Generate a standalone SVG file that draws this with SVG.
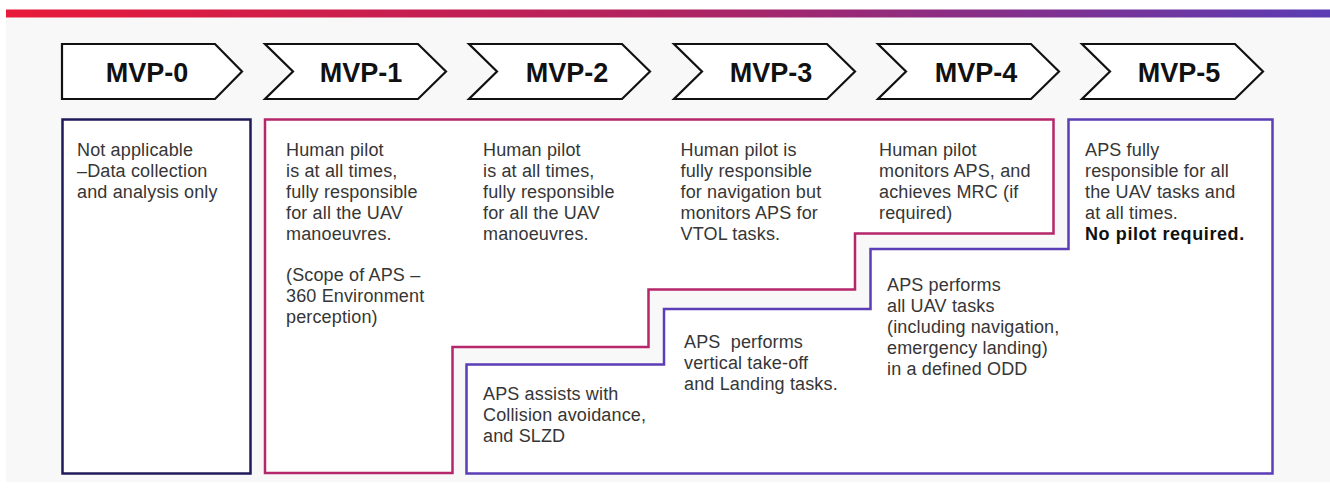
<svg xmlns="http://www.w3.org/2000/svg" width="1330" height="493" viewBox="0 0 1330 493">
<defs>
<linearGradient id="bar" x1="0" y1="0" x2="1" y2="0">
<stop offset="0" stop-color="#e81a3a"/>
<stop offset="0.5" stop-color="#b02360"/>
<stop offset="1" stop-color="#5a3cb4"/>
</linearGradient>
<polygon id="chev" points="0,0 153,0 181,27.5 153,55 0,55 28,27.5"/>
</defs>
<style>
.chev{fill:#fff;stroke:#111;stroke-width:2.2;stroke-linejoin:miter}
.lbl{font-family:"Liberation Sans",Arial,sans-serif;font-weight:bold;font-size:27px;fill:#111;text-anchor:middle}
.t{font-family:"Liberation Sans",Arial,sans-serif;font-size:18px;fill:#363636;letter-spacing:0.15px}
.b{font-weight:bold;fill:#111;letter-spacing:0.6px}
.box{fill:#fff;stroke-width:2.5}
</style>
<rect x="0" y="0" width="1330" height="493" fill="#fff"/>
<rect x="6" y="18" width="1324" height="464" fill="#f8f8f8"/>
<rect x="6" y="9.5" width="1324" height="8" fill="url(#bar)"/>

<g id="mvp0-head">
<polygon class="chev" points="62,44 215,44 242,71.5 215,99 62,99"/>
<text class="lbl" x="147" y="81.5">MVP-0</text>
</g>
<g id="mvp1-head">
<use href="#chev" class="chev" x="265" y="44"/>
<text class="lbl" x="361" y="81.5">MVP-1</text>
</g>
<g id="mvp2-head">
<use href="#chev" class="chev" x="469" y="44"/>
<text class="lbl" x="567" y="81.5">MVP-2</text>
</g>
<g id="mvp3-head">
<use href="#chev" class="chev" x="674" y="44"/>
<text class="lbl" x="771" y="81.5">MVP-3</text>
</g>
<g id="mvp4-head">
<use href="#chev" class="chev" x="878" y="44"/>
<text class="lbl" x="976" y="81.5">MVP-4</text>
</g>
<g id="mvp5-head">
<use href="#chev" class="chev" x="1082" y="44"/>
<text class="lbl" x="1179" y="81.5">MVP-5</text>
</g>

<g id="box-mvp0">
<rect class="box" x="62.5" y="119.5" width="188" height="354" stroke="#1f1a5a"/>
<text class="t" x="77" y="155.7">Not applicable</text>
<text class="t" x="77" y="176.7">–Data collection</text>
<text class="t" x="77" y="197.7">and analysis only</text>
</g>

<g id="box-pilot">
<path class="box" stroke="#b5266a" d="M265,119.5 H1053.5 V233.5 H855 V289.5 H648.5 V347 H452.5 V473 H265 Z"/>
<text class="t" x="286" y="155.7">Human pilot</text>
<text class="t" x="286" y="176.7">is at all times,</text>
<text class="t" x="286" y="197.7">fully responsible</text>
<text class="t" x="286" y="218.7">for all the UAV</text>
<text class="t" x="286" y="239.7">manoeuvres.</text>
<text class="t" x="286" y="280.7">(Scope of APS –</text>
<text class="t" x="286" y="301.7">360 Environment</text>
<text class="t" x="286" y="322.7">perception)</text>

<text class="t" x="483" y="155.7">Human pilot</text>
<text class="t" x="483" y="176.7">is at all times,</text>
<text class="t" x="483" y="197.7">fully responsible</text>
<text class="t" x="483" y="218.7">for all the UAV</text>
<text class="t" x="483" y="239.7">manoeuvres.</text>

<text class="t" x="680.5" y="155.7">Human pilot is</text>
<text class="t" x="680.5" y="176.7">fully responsible</text>
<text class="t" x="680.5" y="197.7">for navigation but</text>
<text class="t" x="680.5" y="218.7">monitors APS for</text>
<text class="t" x="680.5" y="239.7">VTOL tasks.</text>

<text class="t" x="879" y="155.7">Human pilot</text>
<text class="t" x="879" y="176.7">monitors APS, and</text>
<text class="t" x="879" y="197.7">achieves MRC (if</text>
<text class="t" x="879" y="218.7">required)</text>
</g>

<g id="box-aps">
<path class="box" stroke="#5b3db5" d="M1068.5,119.5 H1272.5 V473.5 H466.5 V364.5 H664 V309 H870.5 V249 H1068.5 Z"/>
<text class="t" x="1085" y="155.7">APS fully</text>
<text class="t" x="1085" y="176.7">responsible for all</text>
<text class="t" x="1085" y="197.7">the UAV tasks and</text>
<text class="t" x="1085" y="218.7">at all times.</text>
<text class="t b" x="1085" y="239.7">No pilot required.</text>

<text class="t" x="483" y="400">APS assists with</text>
<text class="t" x="483" y="421">Collision avoidance,</text>
<text class="t" x="483" y="442">and SLZD</text>

<text class="t" x="684" y="348.3" xml:space="preserve">APS  performs</text>
<text class="t" x="684" y="369.3">vertical take-off</text>
<text class="t" x="684" y="390.3">and Landing tasks.</text>

<text class="t" x="887" y="290.7">APS performs</text>
<text class="t" x="887" y="311.7">all UAV tasks</text>
<text class="t" x="887" y="332.7">(including navigation,</text>
<text class="t" x="887" y="353.7">emergency landing)</text>
<text class="t" x="887" y="374.7">in a defined ODD</text>
</g>
</svg>
